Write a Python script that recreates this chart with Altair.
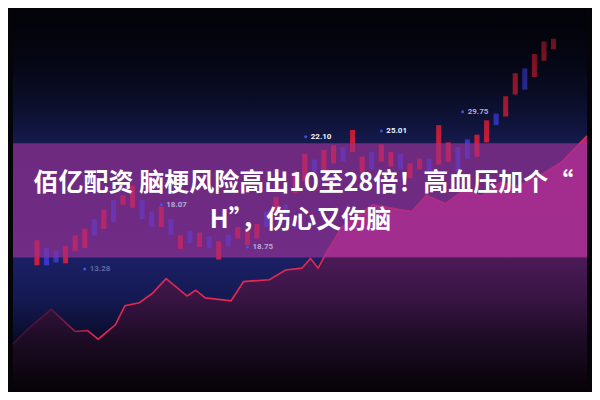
import altair as alt
import pandas as pd

W, H = 584, 384

# ---- candlesticks (day index, high, low, direction) ----
candle_day = list(range(2, 57))
candle_high = [15.8, 15.0, 14.7, 15.2, 16.3, 17.0, 18.0, 19.0, 20.0, 20.5,
               21.5, 20.0, 18.8, 19.3, 18.0, 16.3, 16.8, 16.6, 16.2, 15.7,
               16.4, 17.2, 16.7, 17.5, 18.8, 20.3, 19.5, 23.0, 24.8, 24.2,
               25.2, 25.7, 25.5, 27.3, 24.5, 25.0, 25.8, 25.0, 24.8, 23.8,
               24.3, 24.3, 27.8, 26.0, 25.5, 26.3, 26.8, 28.3, 29.0, 30.8,
               33.2, 33.7, 35.2, 36.5, 36.8]
candle_low = [13.2, 13.2, 13.5, 13.4, 14.7, 15.0, 16.3, 17.0, 17.7, 19.5,
              19.2, 18.0, 17.2, 17.2, 16.4, 14.9, 15.5, 15.1, 15.0, 13.8,
              15.2, 16.0, 15.3, 16.0, 17.2, 18.7, 18.0, 20.7, 22.0, 22.8,
              23.0, 23.8, 24.0, 25.0, 22.8, 23.2, 24.0, 23.5, 23.2, 22.3,
              23.2, 23.0, 23.7, 24.0, 23.0, 24.3, 24.5, 26.0, 27.8, 28.7,
              31.0, 31.5, 32.8, 34.5, 35.7]
candle_kind = ["up", "down", "down", "up", "up", "up", "down", "up", "down", "up",
               "up", "down", "down", "up", "down", "up", "down", "up", "down", "up",
               "down", "up", "up", "up", "down", "up", "down", "up", "up", "down",
               "up", "up", "down", "up", "up", "down", "up", "up", "down", "up",
               "up", "down", "up", "up", "down", "down", "up", "up", "down", "up",
               "up", "down", "up", "up", "up"]

# ---- trend line ----
line_day = [-0.5, 1.0, 3.5, 6.0, 7.3, 8.4, 10.2, 11.2, 12.7, 14.1, 15.5, 17.7,
            18.6, 19.6, 22.3, 23.6, 26.3, 28.0, 29.7, 30.6, 31.4, 32.3, 33.9,
            35.5, 37.1, 39.3, 41.2, 42.7, 44.7, 46.6, 48.5, 50.4, 52.3, 55.0,
            56.9, 59.5]
line_value = [5.0, 6.5, 8.6, 6.3, 6.4, 5.5, 7.0, 9.0, 9.3, 10.3, 11.8, 10.0,
              10.6, 9.8, 9.5, 11.5, 11.7, 12.7, 12.9, 13.9, 12.9, 14.6, 17.2,
              18.4, 19.5, 19.1, 18.8, 20.5, 19.6, 21.0, 20.4, 21.8, 21.4, 22.8,
              24.0, 26.7]

# ---- price tags ----
tag_text = ["22.10", "25.01", "29.75", "18.07", "18.75", "13.28"]
tag_day = [30.1, 38.0, 46.5, 15.0, 24.0, 7.0]
tag_value = [26.6, 27.2, 29.2, 19.5, 15.1, 12.8]
tag_group = ["bright", "bright", "dim", "dim", "dim", "faint"]

# ---- headline ----
title_lines = ["佰亿配资 脑梗风险高出10至28倍！高血压加个“", "H”，伤心又伤脑"]
title_day = [29.85, 29.55]
title_value = [21.8, 17.9]

x_domain = [-0.5, 59.5]
y_domain = [0, 40]
band_range = [14.0, 25.9]
top_fade = [26.0, 40.0]

xs = alt.Scale(domain=x_domain, nice=False, zero=False)
ys = alt.Scale(domain=y_domain, nice=False, zero=False)

candles = pd.DataFrame({"day": candle_day, "high": candle_high,
                        "low": candle_low, "kind": candle_kind})
line_df = pd.DataFrame({"day": line_day, "value": line_value})
tags = pd.DataFrame({"text": tag_text, "day": tag_day, "value": tag_value,
                     "group": tag_group})
titles = pd.DataFrame({"text": title_lines, "day": title_day, "value": title_value})
frame = pd.DataFrame({"x": [x_domain[0]], "x2": [x_domain[1]],
                      "y": [y_domain[0]], "y2": [y_domain[1]]})
band = pd.DataFrame({"x": [x_domain[0]], "x2": [x_domain[1]],
                     "y": [band_range[0]], "y2": [band_range[1]]})
fade = pd.DataFrame({"x": [x_domain[0]], "x2": [x_domain[1]],
                     "y": [top_fade[0]], "y2": [top_fade[1]]})


def G(stops, vertical=True):
    return alt.Gradient(
        gradient="linear",
        x1=0, y1=0,
        x2=0 if vertical else 1,
        y2=1 if vertical else 0,
        stops=[alt.GradientStop(offset=o, color=c) for o, c in stops],
    )


def rect_layer(df, **mark):
    return alt.Chart(df).mark_rect(**mark).encode(
        x=alt.X("x:Q", scale=xs, axis=None), x2="x2:Q",
        y=alt.Y("y:Q", scale=ys, axis=None), y2="y2:Q")


bg = rect_layer(frame, color=G([
    (0.0, "#040409"), (0.12, "#080a1e"), (0.25, "#0f1338"), (0.35, "#141a4c"),
    (0.5, "#171d5a"), (0.65, "#1a2064"), (0.75, "#151a55"), (0.86, "#0a0c2a"),
    (1.0, "#030306")]))

area = alt.Chart(line_df).mark_area(color=G([
    (0.0, "#b8247f"), (0.47, "#b02282"), (0.476, "#4c1a58"), (0.62, "#3a1545"),
    (0.8, "#1c0b24"), (1.0, "#050306")])).encode(
    x=alt.X("day:Q", scale=xs, axis=None),
    y=alt.Y("value:Q", scale=ys, axis=None))

line = alt.Chart(line_df).mark_line(strokeWidth=1.6, stroke=G([
    (0.0, "#3a1030"), (0.07, "#5a1840"), (0.11, "#a02048"), (0.15, "#e42850"),
    (1.0, "#e42850")], vertical=False)).encode(
    x=alt.X("day:Q", scale=xs, axis=None),
    y=alt.Y("value:Q", scale=ys, axis=None))

cscale = alt.Scale(domain=["up", "down"], range=["#e41f3c", "#3d3ad6"])


def candle_layer(opacity):
    return alt.Chart(candles).mark_bar(size=5, opacity=opacity).encode(
        x=alt.X("day:Q", scale=xs, axis=None),
        y=alt.Y("high:Q", scale=ys, axis=None), y2="low:Q",
        color=alt.Color("kind:N", scale=cscale, legend=None))


vignette = rect_layer(fade, color=G([
    (0.0, "rgba(2,2,8,0.85)"), (0.6, "rgba(2,2,8,0.35)"), (1.0, "rgba(2,2,8,0)")]))

band_layer = rect_layer(band, color="#9a3296", opacity=0.68)

dots = alt.Chart(tags).mark_circle(size=9, color="#4a55e8", opacity=0.9).encode(
    x=alt.X("day:Q", scale=xs, axis=None),
    y=alt.Y("value:Q", scale=ys, axis=None))

tag_text_layer = alt.Chart(tags).mark_text(
    align="left", baseline="middle", dx=5, fontSize=8, fontWeight="bold",
    font="Roboto").encode(
    x=alt.X("day:Q", scale=xs, axis=None),
    y=alt.Y("value:Q", scale=ys, axis=None),
    text="text:N",
    color=alt.Color("group:N", legend=None,
                    scale=alt.Scale(domain=["bright", "dim", "faint"],
                                    range=["#f2f2ff", "#b4a8d8", "#5a6aa8"])))

title_layer = alt.Chart(titles).mark_text(
    align="center", baseline="middle", fontSize=25, fontWeight="bold",
    font="Noto Sans CJK SC", color="#ffffff").encode(
    x=alt.X("day:Q", scale=xs, axis=None),
    y=alt.Y("value:Q", scale=ys, axis=None),
    text="text:N")

chart = alt.layer(
    bg, area, line, candle_layer(0.82), vignette, band_layer,
    candle_layer(0.25), dots, tag_text_layer, title_layer
).resolve_scale(color="independent").properties(
    width=W, height=H, padding=0,
    autosize=alt.AutoSizeParams(type="fit", contains="padding"),
    background="#040409",
).configure_view(stroke=None)

chart.save("out.html", embed_options={"renderer": "svg", "actions": False})
